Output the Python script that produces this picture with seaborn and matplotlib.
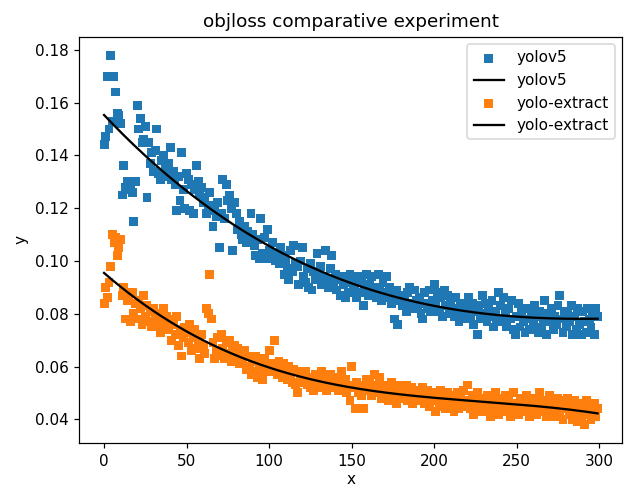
import matplotlib
matplotlib.use("Agg")
import matplotlib.pyplot as plt
import numpy as np
import pandas as pd
import seaborn as sns

# objloss per epoch
yolov5 = [
    0.144, 0.147, 0.170, 0.150, 0.178, 0.153, 0.170, 0.164, 0.156, 0.155,
    0.152, 0.125, 0.136, 0.128, 0.130, 0.127, 0.129, 0.126, 0.115, 0.130,
    0.159, 0.150, 0.154, 0.145, 0.146, 0.151, 0.124, 0.145, 0.137, 0.141,
    0.134, 0.142, 0.150, 0.133, 0.131, 0.138, 0.140, 0.135, 0.132, 0.137,
    0.143, 0.131, 0.134, 0.129, 0.119, 0.132, 0.123, 0.141, 0.127, 0.120,
    0.133, 0.131, 0.119, 0.129, 0.118, 0.127, 0.136, 0.130, 0.125, 0.128,
    0.122, 0.124, 0.118, 0.121, 0.126, 0.120, 0.113, 0.119, 0.117, 0.122,
    0.105, 0.118, 0.131, 0.116, 0.129, 0.123, 0.125, 0.120, 0.104, 0.122,
    0.118, 0.112, 0.115, 0.110, 0.108, 0.113, 0.107, 0.111, 0.109, 0.118,
    0.110, 0.106, 0.102, 0.108, 0.101, 0.116, 0.103, 0.109, 0.101, 0.112,
    0.104, 0.102, 0.107, 0.101, 0.100, 0.103, 0.099, 0.105, 0.102, 0.095,
    0.100, 0.097, 0.093, 0.104, 0.096, 0.106, 0.099, 0.098, 0.091, 0.100,
    0.105, 0.094, 0.092, 0.097, 0.090, 0.099, 0.089, 0.096, 0.093, 0.103,
    0.095, 0.098, 0.091, 0.094, 0.104, 0.093, 0.090, 0.097, 0.102, 0.092,
    0.095, 0.089, 0.093, 0.087, 0.094, 0.091, 0.086, 0.092, 0.088, 0.095,
    0.093, 0.089, 0.091, 0.086, 0.094, 0.088, 0.092, 0.083, 0.090, 0.095,
    0.087, 0.091, 0.094, 0.088, 0.090, 0.086, 0.095, 0.089, 0.085, 0.092,
    0.088, 0.094, 0.086, 0.090, 0.084, 0.087, 0.078, 0.089, 0.076, 0.085,
    0.087, 0.083, 0.086, 0.081, 0.088, 0.090, 0.084, 0.082, 0.089, 0.085,
    0.083, 0.086, 0.080, 0.078, 0.088, 0.084, 0.082, 0.089, 0.081, 0.085,
    0.091, 0.084, 0.088, 0.081, 0.086, 0.079, 0.089, 0.083, 0.087, 0.080,
    0.085, 0.082, 0.079, 0.086, 0.081, 0.077, 0.084, 0.080, 0.083, 0.078,
    0.082, 0.086, 0.079, 0.084, 0.076, 0.081, 0.072, 0.083, 0.078, 0.087,
    0.080, 0.084, 0.077, 0.082, 0.079, 0.085, 0.075, 0.081, 0.078, 0.088,
    0.083, 0.077, 0.086, 0.080, 0.075, 0.082, 0.078, 0.085, 0.074, 0.072,
    0.079, 0.084, 0.075, 0.081, 0.077, 0.073, 0.082, 0.078, 0.074, 0.080,
    0.076, 0.083, 0.079, 0.073, 0.081, 0.075, 0.078, 0.085, 0.072, 0.080,
    0.077, 0.082, 0.074, 0.079, 0.076, 0.083, 0.087, 0.078, 0.073, 0.081,
    0.075, 0.080, 0.077, 0.083, 0.072, 0.079, 0.074, 0.082, 0.076, 0.072,
    0.081, 0.077, 0.073, 0.082, 0.078, 0.075, 0.080, 0.072, 0.082, 0.079,
]

yolo_extract = [
    0.084, 0.090, 0.086, 0.092, 0.098, 0.110, 0.107, 0.109, 0.102, 0.105,
    0.108, 0.087, 0.090, 0.078, 0.085, 0.086, 0.077, 0.088, 0.080, 0.084,
    0.078, 0.085, 0.082, 0.076, 0.087, 0.079, 0.083, 0.077, 0.081, 0.075,
    0.082, 0.078, 0.076, 0.080, 0.073, 0.077, 0.082, 0.075, 0.079, 0.074,
    0.078, 0.070, 0.076, 0.072, 0.079, 0.068, 0.074, 0.064, 0.071, 0.075,
    0.073, 0.069, 0.076, 0.066, 0.071, 0.074, 0.067, 0.070, 0.063, 0.072,
    0.068, 0.065, 0.082, 0.080, 0.095, 0.078, 0.069, 0.063, 0.066, 0.071,
    0.064, 0.072, 0.067, 0.063, 0.069, 0.065, 0.070, 0.062, 0.066, 0.068,
    0.063, 0.067, 0.061, 0.065, 0.062, 0.066, 0.059, 0.064, 0.060, 0.057,
    0.062, 0.058, 0.064, 0.056, 0.061, 0.059, 0.055, 0.063, 0.058, 0.060,
    0.066, 0.061, 0.058, 0.070, 0.060, 0.057, 0.062, 0.059, 0.056, 0.061,
    0.058, 0.055, 0.060, 0.057, 0.054, 0.059, 0.053, 0.050, 0.058, 0.055,
    0.057, 0.054, 0.058, 0.053, 0.056, 0.052, 0.055, 0.051, 0.057, 0.054,
    0.055, 0.052, 0.058, 0.053, 0.056, 0.051, 0.054, 0.057, 0.052, 0.055,
    0.053, 0.056, 0.051, 0.054, 0.058, 0.052, 0.055, 0.050, 0.053, 0.047,
    0.060, 0.052, 0.044, 0.054, 0.050, 0.053, 0.049, 0.044, 0.052, 0.055,
    0.051, 0.054, 0.049, 0.052, 0.057, 0.050, 0.053, 0.056, 0.048, 0.051,
    0.049, 0.053, 0.047, 0.051, 0.054, 0.048, 0.052, 0.046, 0.050, 0.053,
    0.048, 0.051, 0.049, 0.053, 0.047, 0.050, 0.052, 0.046, 0.049, 0.051,
    0.047, 0.050, 0.048, 0.052, 0.046, 0.049, 0.051, 0.045, 0.048, 0.050,
    0.047, 0.043, 0.049, 0.046, 0.051, 0.045, 0.048, 0.044, 0.050, 0.047,
    0.045, 0.049, 0.043, 0.047, 0.050, 0.044, 0.048, 0.046, 0.051, 0.045,
    0.053, 0.047, 0.044, 0.049, 0.042, 0.046, 0.050, 0.043, 0.048, 0.045,
    0.047, 0.043, 0.049, 0.045, 0.041, 0.048, 0.044, 0.050, 0.046, 0.042,
    0.048, 0.045, 0.043, 0.049, 0.044, 0.047, 0.041, 0.046, 0.050, 0.043,
    0.046, 0.042, 0.048, 0.044, 0.047, 0.043, 0.049, 0.045, 0.041, 0.047,
    0.044, 0.048, 0.042, 0.046, 0.050, 0.043, 0.047, 0.044, 0.041, 0.046,
    0.049, 0.043, 0.047, 0.041, 0.045, 0.048, 0.042, 0.046, 0.040, 0.047,
    0.044, 0.048, 0.042, 0.045, 0.040, 0.047, 0.043, 0.039, 0.046, 0.041,
    0.044, 0.038, 0.047, 0.042, 0.045, 0.040, 0.043, 0.046, 0.041, 0.044,
]

epochs = np.arange(len(yolov5))


def fit_curve(x, y, deg=3):
    """多项式拟合曲线"""
    coef = np.polyfit(x, y, deg)
    return np.polyval(coef, x)


def main():
    df = pd.DataFrame({
        "x": epochs,
        "yolov5": yolov5,
        "yolo-extract": yolo_extract,
    })

    # 参考图约为 1.1 倍缩放，用 dpi=110 保持 635x488 像素
    fig, ax = plt.subplots(figsize=(635 / 110, 488 / 110), dpi=110)
    fig.subplots_adjust(left=0.125, right=0.98, top=0.925, bottom=0.092)

    for name, color in [("yolov5", "#1f77b4"), ("yolo-extract", "#ff7f0e")]:
        sns.scatterplot(data=df, x="x", y=name, marker="s", s=34,
                        color=color, edgecolor="none", label=name, ax=ax)
        sns.lineplot(x=df["x"], y=fit_curve(df["x"], df[name]),
                     color="black", linewidth=1.5, label=name, ax=ax)

    ax.set_title("objloss comparative experiment")
    ax.set_xlabel("x", labelpad=2)
    ax.set_ylabel("y")
    ax.legend(loc="upper right")

    plt.savefig("out.png", dpi=110)
    plt.close()


if __name__ == "__main__":
    main()
